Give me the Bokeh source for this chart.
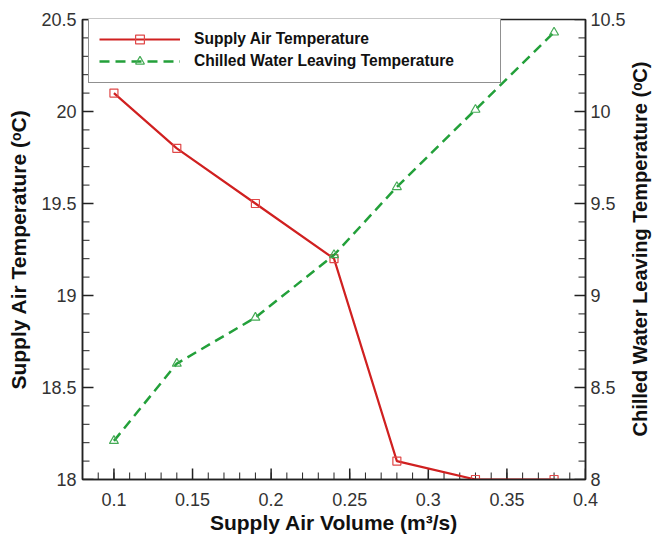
import numpy as np
from bokeh.plotting import figure
from bokeh.models import Range1d, LinearAxis, Legend, LegendItem, SingleIntervalTicker, Div
from bokeh.layouts import row
from bokeh.embed import file_html
from bokeh.resources import INLINE

air_volume = [0.10, 0.14, 0.19, 0.24, 0.28, 0.33, 0.38]
supply_air_temp = [20.1, 19.8, 19.5, 19.2, 18.1, 18.0, 18.0]
chilled_water_temp = [8.21, 8.63, 8.88, 9.22, 9.59, 10.01, 10.43]

X_RANGE = (0.08, 0.4)
Y_LEFT = (18.0, 20.5)
Y_RIGHT = (8.0, 10.5)

FONT = "Liberation Sans"
INK = "#222222"
RIGHT_TITLE = "Chilled Water Leaving Temperature (ᵒC)"

PLOT_W, PLOT_H = 628, 543
BORDER_TOP, BORDER_BOTTOM = 19, 64

p = figure(width=PLOT_W, height=PLOT_H, output_backend="svg", toolbar_location=None,
           x_range=Range1d(*X_RANGE), y_range=Range1d(*Y_LEFT),
           min_border_left=82, min_border_top=BORDER_TOP, min_border_right=41,
           min_border_bottom=BORDER_BOTTOM)
p.extra_y_ranges = {"cw": Range1d(*Y_RIGHT)}
p.xgrid.visible = False
p.ygrid.visible = False
p.outline_line_color = INK
p.outline_line_width = 1.5

right = LinearAxis(y_range_name="cw")
p.add_layout(right, "right")

p.xaxis.ticker = SingleIntervalTicker(interval=0.05, num_minor_ticks=5)
p.yaxis.ticker = SingleIntervalTicker(interval=0.5, num_minor_ticks=5)

p.xaxis.axis_label = "Supply Air Volume (m³/s)"
p.yaxis[0].axis_label = "Supply Air Temperature (ᵒC)"

for ax in p.xaxis + p.yaxis:
    ax.axis_line_color = INK
    ax.axis_line_width = 1.5
    ax.major_tick_in = 0
    ax.major_tick_out = 0
    ax.minor_tick_in = 0
    ax.minor_tick_out = 0
    ax.major_label_text_font = FONT
    ax.major_label_text_font_size = "18px"
    ax.major_label_text_color = "#333333"
    ax.axis_label_text_font = FONT
    ax.axis_label_text_font_size = "21px"
    ax.axis_label_text_font_style = "bold"
    ax.axis_label_text_color = "#111111"
    ax.major_label_standoff = 6

p.xaxis.major_label_standoff = 13
p.xaxis.axis_label_standoff = 2
p.yaxis[0].axis_label_standoff = 8
right.major_label_standoff = 5

# inward tick marks: short screen-length rays starting on the frame edges
x_minor = np.round(np.arange(0.08, 0.4001, 0.01), 3)
x_major = np.round(np.arange(0.10, 0.4001, 0.05), 3)
yl_minor = np.round(np.arange(18.0, 20.5001, 0.1), 2)
yl_major = np.round(np.arange(18.0, 20.5001, 0.5), 2)
yr_minor = np.round(np.arange(8.0, 10.5001, 0.1), 2)
yr_major = np.round(np.arange(8.0, 10.5001, 0.5), 2)

def ticks(xs, ys, length, width, angle, y_range_name="default"):
    p.ray(x=list(xs), y=list(ys), length=length, length_units="screen", angle=angle,
          line_color=INK, line_width=width, y_range_name=y_range_name)

ticks(x_minor, [Y_LEFT[0]] * len(x_minor), 7, 1, np.pi / 2)
ticks(x_major, [Y_LEFT[0]] * len(x_major), 11, 1.5, np.pi / 2)
ticks([X_RANGE[0]] * len(yl_minor), yl_minor, 7, 1, 0.0)
ticks([X_RANGE[0]] * len(yl_major), yl_major, 11, 1.5, 0.0)
ticks([X_RANGE[1]] * len(yr_minor), yr_minor, 7, 1, np.pi, "cw")
ticks([X_RANGE[1]] * len(yr_major), yr_major, 11, 1.5, np.pi, "cw")

red = "#d02020"
green = "#23a03a"
l1 = p.line(air_volume, supply_air_temp, line_color=red, line_width=2.2)
m1 = p.scatter(air_volume, supply_air_temp, marker="square", size=8,
               fill_color=None, line_color="#e04848", line_width=1.2)
l2 = p.line(air_volume, chilled_water_temp, y_range_name="cw", line_color=green,
            line_width=2.5, line_dash="10 6")
m2 = p.scatter(air_volume, chilled_water_temp, y_range_name="cw", marker="triangle", size=9,
               fill_color=None, line_color="#44aa55", line_width=1.2)

legend = Legend(items=[LegendItem(label="Supply Air Temperature", renderers=[l1, m1]),
                       LegendItem(label="Chilled Water Leaving Temperature", renderers=[l2, m2])],
                location=(6, 396), margin=0, padding=10, spacing=0,
                glyph_width=81, glyph_height=22, label_height=22, label_width=296,
                label_standoff=14, label_text_font=FONT, label_text_font_size="15.6px",
                label_text_font_style="bold", label_text_color="#111111",
                border_line_color=INK, border_line_width=1.2,
                background_fill_alpha=1.0)
p.add_layout(legend, "center")

# right-hand title, reading bottom-to-top, centred on the plot frame
DIV_W = 652 - PLOT_W
frame_mid = BORDER_TOP + (PLOT_H - BORDER_TOP - BORDER_BOTTOM) / 2
box = int(2 * frame_mid)
title_html = (
    f'<div style="width:{box}px;height:{DIV_W}px;line-height:{DIV_W}px;'
    f'transform-origin:0 0;transform:translate(0px,{box}px) rotate(-90deg);'
    f'text-align:center;white-space:nowrap;font-family:\'{FONT}\';font-weight:bold;'
    f'font-size:20px;color:#111111;">{RIGHT_TITLE}</div>'
)
right_title = Div(text=title_html, width=DIV_W, height=PLOT_H,
                  styles={"overflow": "visible", "margin": "0", "padding": "0"})

layout = row(p, right_title, spacing=0)

open("out.html", "w").write(file_html(layout, INLINE))
